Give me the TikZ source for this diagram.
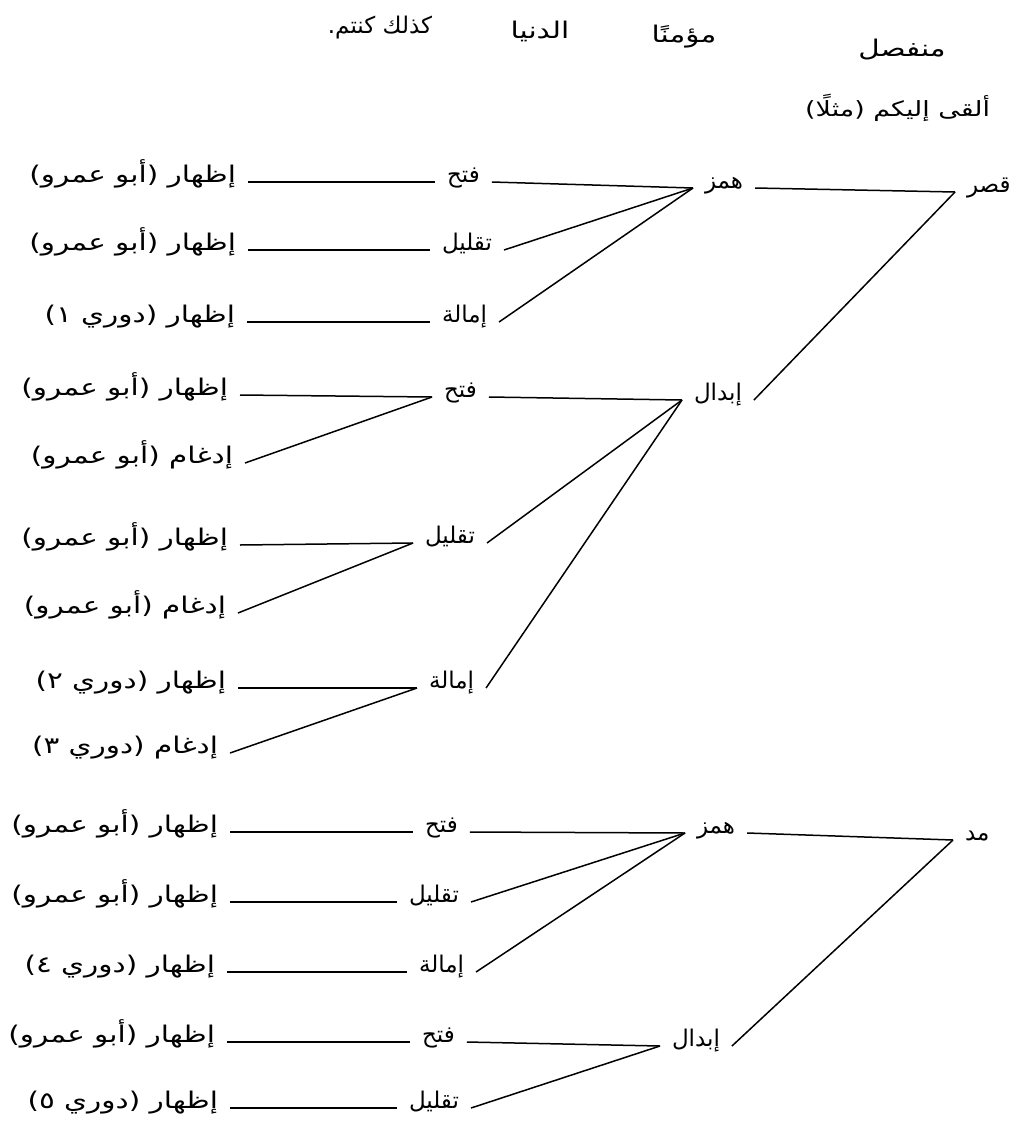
\documentclass[tikz,border=0pt]{standalone}
\usepackage{fontspec}
\TeXXeTstate=1
\newfontfamily\arabicfont[Script=Arabic]{DejaVu Sans}
\newfontfamily\arabicwide[Script=Arabic,FakeStretch=1.28]{DejaVu Sans}
\newcommand{\ar}[1]{\beginR #1\endR}
\begin{document}
\begin{tikzpicture}[x=1pt,y=-1pt,
  every node/.style={font=\arabicfont\fontsize{23}{26}\selectfont, inner sep=0pt, outer xsep=12pt, outer ysep=0pt},
  leaf/.style={anchor=base east, font=\arabicwide\fontsize{23}{26}\selectfont},
  mid/.style={anchor=base west},
  hdr/.style={anchor=center, outer xsep=0pt},
  hdrwide/.style={hdr, font=\arabicwide\fontsize{23}{26}\selectfont},
  lnk/.style={line width=1.5pt, black}]
\useasboundingbox (0,0) rectangle (1019,1130);
% header
\node[hdr] (h1) at (380,28) {\ar{كذلك كنتم.}};
\node[hdrwide] (h2) at (540,31) {\ar{الدنيا}};
\node[hdrwide] (h3) at (684,37) {\ar{مؤمنًا}};
\node[hdrwide] (h4) at (902,50) {\ar{منفصل}};
\node[anchor=east, font=\arabicwide\fontsize{21}{25}\selectfont] (h5) at (1002,108) {\ar{ألقى إليكم (مثلًا)}};
% leaves
\node[leaf] (l1) at (248,182) {\ar{إظهار (أبو عمرو)}};
\node[leaf] (l2) at (248,250) {\ar{إظهار (أبو عمرو)}};
\node[leaf] (l3) at (247,322) {\ar{إظهار (دوري ١)}};
\node[leaf] (l4) at (240,395) {\ar{إظهار (أبو عمرو)}};
\node[leaf] (l5) at (245,463) {\ar{إدغام (أبو عمرو)}};
\node[leaf] (l6) at (240,545) {\ar{إظهار (أبو عمرو)}};
\node[leaf] (l7) at (238,613) {\ar{إدغام (أبو عمرو)}};
\node[leaf] (l8) at (238,688) {\ar{إظهار (دوري ٢)}};
\node[leaf] (l9) at (230,753) {\ar{إدغام (دوري ٣)}};
\node[leaf] (l10) at (230,832) {\ar{إظهار (أبو عمرو)}};
\node[leaf] (l11) at (230,902) {\ar{إظهار (أبو عمرو)}};
\node[leaf] (l12) at (227,972) {\ar{إظهار (دوري ٤)}};
\node[leaf] (l13) at (227,1042) {\ar{إظهار (أبو عمرو)}};
\node[leaf] (l14) at (230,1108) {\ar{إظهار (دوري ٥)}};
% middle labels
\node[mid] (f1) at (435,182) {\ar{فتح}};
\node[mid] (t1) at (430,250) {\ar{تقليل}};
\node[mid] (i1) at (430,322) {\ar{إمالة}};
\node[mid] (f2) at (432,397) {\ar{فتح}};
\node[mid] (t2) at (413,543) {\ar{تقليل}};
\node[mid] (i2) at (417,688) {\ar{إمالة}};
\node[mid] (f3) at (413,832) {\ar{فتح}};
\node[mid] (t3) at (397,902) {\ar{تقليل}};
\node[mid] (i3) at (407,972) {\ar{إمالة}};
\node[mid] (f4) at (410,1042) {\ar{فتح}};
\node[mid] (t4) at (397,1108) {\ar{تقليل}};
% parents
\node[mid] (hz1) at (693,188) {\ar{همز}};
\node[mid] (ib1) at (682,400) {\ar{إبدال}};
\node[mid] (qs) at (955,192) {\ar{قصر}};
\node[mid] (md) at (953,840) {\ar{مد}};
\node[mid] (hz2) at (685,833) {\ar{همز}};
\node[mid] (ib2) at (660,1046) {\ar{إبدال}};
% connectors leaves -> middle
\draw[lnk] (l1.base east) -- (f1.base west);
\draw[lnk] (l2.base east) -- (t1.base west);
\draw[lnk] (l3.base east) -- (i1.base west);
\draw[lnk] (l4.base east) -- (f2.base west);
\draw[lnk] (l5.base east) -- (f2.base west);
\draw[lnk] (l6.base east) -- (t2.base west);
\draw[lnk] (l7.base east) -- (t2.base west);
\draw[lnk] (l8.base east) -- (i2.base west);
\draw[lnk] (l9.base east) -- (i2.base west);
\draw[lnk] (l10.base east) -- (f3.base west);
\draw[lnk] (l11.base east) -- (t3.base west);
\draw[lnk] (l12.base east) -- (i3.base west);
\draw[lnk] (l13.base east) -- (f4.base west);
\draw[lnk] (l14.base east) -- (t4.base west);
% middle -> parents
\draw[lnk] (f1.base east) -- (hz1.base west);
\draw[lnk] (t1.base east) -- (hz1.base west);
\draw[lnk] (i1.base east) -- (hz1.base west);
\draw[lnk] (f2.base east) -- (ib1.base west);
\draw[lnk] (t2.base east) -- (ib1.base west);
\draw[lnk] (i2.base east) -- (ib1.base west);
\draw[lnk] (f3.base east) -- (hz2.base west);
\draw[lnk] (t3.base east) -- (hz2.base west);
\draw[lnk] (i3.base east) -- (hz2.base west);
\draw[lnk] (f4.base east) -- (ib2.base west);
\draw[lnk] (t4.base east) -- (ib2.base west);
% parents -> top
\draw[lnk] (hz1.base east) -- (qs.base west);
\draw[lnk] (ib1.base east) -- (qs.base west);
\draw[lnk] (hz2.base east) -- (md.base west);
\draw[lnk] (ib2.base east) -- (md.base west);
\end{tikzpicture}
\end{document}
